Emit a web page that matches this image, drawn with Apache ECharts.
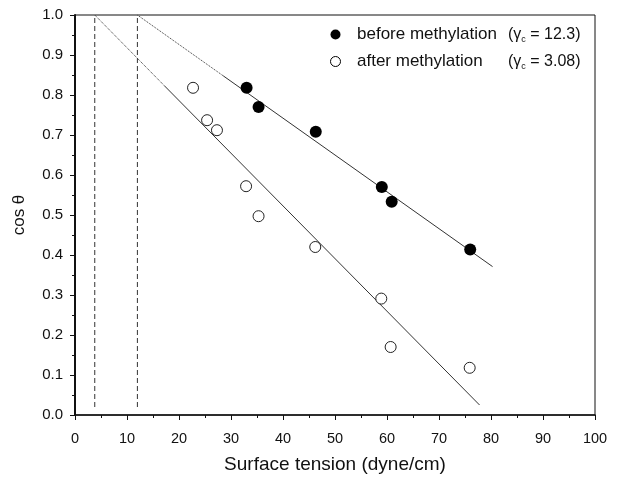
<!DOCTYPE html>
<html>
<head>
<meta charset="utf-8">
<script src="https://cdn.jsdelivr.net/npm/echarts@6/dist/echarts.min.js"></script>
<style>
  html, body { margin: 0; padding: 0; background: #fff; }
  #chart { width: 621px; height: 479px; }
</style>
</head>
<body>
<div id="chart"></div>
<script>
// measured points (surface tension, cos theta)
const beforeData = [[33.0, 0.818], [35.3, 0.770], [46.3, 0.708], [59.0, 0.570], [60.9, 0.533], [76.0, 0.414]]
const afterData = [[22.7, 0.818], [25.4, 0.737], [27.3, 0.712], [32.9, 0.572], [35.3, 0.497], [46.2, 0.420], [58.9, 0.291], [60.7, 0.170], [75.9, 0.118]]

// Zisman fit lines: extrapolated part (dotted) and fitted part (solid)
const beforeExtrap = [[12.0, 1.0], [28.5, 0.848]]
const beforeFit = [[28.5, 0.848], [80.3, 0.371]]
const afterExtrap = [[3.8, 1.0], [17.2, 0.823]]
const afterFit = [[17.2, 0.823], [77.8, 0.025]]

// critical surface tension markers
const criticalX = [3.8, 12.0]

const xTicks = [0, 100, 10]
const yTicks = [0, 1, 0.1]

const legendLabels = {
    before: ['before methylation', '12.3'],
    after: ['after methylation', '3.08']
}

const font = 'Liberation Sans, Arial, sans-serif'
const ink = '#111'

const fitLine = (data, type) => ({
    type: 'line',
    data,
    symbol: 'none',
    silent: true,
    lineStyle: { color: '#333', width: 1, type },
    z: 1
})

var myChart = echarts.init(document.getElementById('chart'))

var option = {
    backgroundColor: '#fff',
    animation: false,
    textStyle: { fontFamily: font },
    grid: {
        left: 75, right: 26, top: 15, bottom: 64,
        show: true,
        borderColor: ink,
        borderWidth: 1
    },
    legend: {
        orient: 'vertical',
        left: 325,
        top: 21,
        itemGap: 9,
        itemWidth: 33,
        itemHeight: 10,
        data: [
            { name: 'before', icon: 'circle', itemStyle: { color: '#000' } },
            { name: 'after', icon: 'circle', itemStyle: { color: '#fff', borderColor: '#000', borderWidth: 1 } }
        ],
        formatter: function (name) {
            const [label, value] = legendLabels[name]
            return '{n|' + label + '}{p|(γ}{s|c}{p| = ' + value + ')}'
        },
        textStyle: {
            fontSize: 17,
            color: ink,
            fontFamily: font,
            rich: {
                n: { width: 151, fontSize: 17, color: ink, fontFamily: font },
                p: { fontSize: 16, color: ink, fontFamily: font },
                s: { fontSize: 9, color: ink, padding: [10, 0, 0, 0], fontFamily: font }
            }
        }
    },
    xAxis: {
        type: 'value',
        min: xTicks[0],
        max: xTicks[1],
        interval: xTicks[2],
        name: 'Surface tension (dyne/cm)',
        nameLocation: 'middle',
        nameGap: 40,
        nameTextStyle: { fontSize: 19, color: ink, fontFamily: font },
        axisLine: { lineStyle: { color: ink, width: 1.5 } },
        axisTick: { length: 5, lineStyle: { color: ink } },
        minorTick: { show: true, splitNumber: 2, length: 3, lineStyle: { color: ink } },
        axisLabel: { fontSize: 14.5, color: ink, margin: 16 },
        splitLine: { show: false }
    },
    yAxis: {
        type: 'value',
        min: yTicks[0],
        max: yTicks[1],
        interval: yTicks[2],
        name: 'cos θ',
        nameLocation: 'middle',
        nameGap: 47,
        nameTextStyle: { fontSize: 17, color: ink, fontFamily: font },
        axisLine: { lineStyle: { color: ink, width: 2 } },
        axisTick: { length: 5, lineStyle: { color: ink } },
        minorTick: { show: true, splitNumber: 2, length: 3, lineStyle: { color: ink } },
        axisLabel: { fontSize: 15, color: ink, margin: 12, formatter: v => v.toFixed(1) },
        splitLine: { show: false }
    },
    series: [
        fitLine(beforeExtrap, 'dotted'),
        fitLine(beforeFit, 'solid'),
        fitLine(afterExtrap, 'dotted'),
        fitLine(afterFit, 'solid'),
        ...criticalX.map(x => fitLine([[x, 0.02], [x, 1.0]], [5, 3])),
        {
            name: 'before',
            type: 'scatter',
            data: beforeData,
            symbol: 'circle',
            symbolSize: 12,
            itemStyle: { color: '#000', opacity: 1 },
            z: 3
        },
        {
            name: 'after',
            type: 'scatter',
            data: afterData,
            symbol: 'circle',
            symbolSize: 11,
            itemStyle: { color: '#fff', borderColor: '#222', borderWidth: 1, opacity: 1 },
            z: 3
        }
    ]
}

myChart.setOption(option)
</script>
</body>
</html>
